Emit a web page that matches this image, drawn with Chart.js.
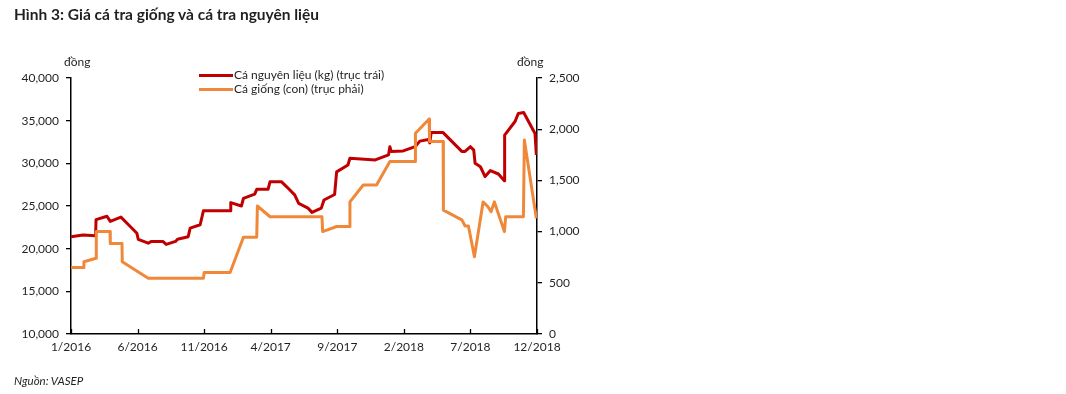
<!DOCTYPE html>
<html>
<head>
<meta charset="utf-8">
<script src="https://cdn.jsdelivr.net/npm/chart.js@4/dist/chart.umd.min.js"></script>
<style>
  html, body { margin: 0; padding: 0; background: #fff; }
  #wrap { position: relative; width: 1066px; height: 394px; font-family: "Lato", "Liberation Sans", sans-serif; color: #231f20; }
  #c { position: absolute; left: 0; top: 0; }
  .t { position: absolute; white-space: nowrap; }
  #title { left: 14px; top: 5px; font-size: 15.5px; font-weight: bold; }
  #src { left: 14px; top: 374px; font-size: 11.5px; font-style: italic; }
  .unit { font-size: 12px; top: 54px; }
  .leg { font-size: 12px; }
  .sw { position: absolute; height: 3px; width: 34px; }
</style>
</head>
<body>
<div id="wrap">
  <canvas id="c" width="1066" height="394"></canvas>
  <div class="t" id="title">Hình 3: Giá cá tra giống và cá tra nguyên liệu</div>
  <div class="t unit" style="left:64px;">đồng</div>
  <div class="t unit" style="left:517px;">đồng</div>
  <div class="sw" style="left:199px; top:74px; background:#c00000;"></div>
  <div class="t leg" style="left:234px; top:67px;">Cá nguyên liệu (kg) (trục trái)</div>
  <div class="sw" style="left:199px; top:88px; background:#f0883a;"></div>
  <div class="t leg" style="left:234px; top:81px;">Cá giống (con) (trục phải)</div>
  <div class="t" id="src">Nguồn: VASEP</div>
</div>
<script>
// x = months since 1/2016
const xTickLabels = ['1/2016','6/2016','11/2016','4/2017','9/2017','2/2018','7/2018','12/2018'];

const rawMonths = [0,0.9,1.85,1.88,2.7,2.95,3.75,4.45,4.95,5.05,5.8,6.05,6.9,7.15,7.85,8.0,8.8,8.95,9.7,9.95,11.95,12.0,12.8,12.95,13.8,13.95,14.8,14.95,15.8,16.2,16.8,17.1,17.8,18.1,18.8,19.0,19.8,19.95,20.8,20.95,22.85,23.85,23.95,24.05,24.95,25.85,26.2,26.85,26.95,27.05,27.95,29.35,29.6,30.0,30.25,30.35,30.75,31.1,31.5,32.1,32.55,32.57,33.35,33.6,34.0,34.85,34.95];
const rawPrices = [21400,21600,21500,23400,23800,23200,23700,22600,21800,21100,20650,20850,20850,20500,20850,21100,21400,22400,22800,24450,24450,25400,25000,25900,26400,26950,26950,27850,27850,27250,26300,25300,24750,24250,24750,25700,26350,29000,29800,30600,30400,31000,31950,31400,31450,31950,32600,32800,32400,33600,33600,31400,31400,31950,31550,30000,29600,28450,29150,28750,27950,33300,34900,35850,35950,33500,31000];

const seedMonths = [0,0.92,0.97,1.88,1.9,2.93,2.95,3.83,3.85,5.8,9.95,10.0,11.95,12.95,13.95,14.0,14.95,18.85,18.9,19.95,20.9,20.95,21.95,22.95,23.95,25.85,25.87,26.9,26.93,27.95,27.97,29.35,29.6,29.85,30.3,30.95,31.3,31.55,31.8,32.55,32.65,33.98,34.05,34.95];
const seedPrices = [650,650,705,740,1000,1000,885,885,705,545,545,600,600,945,945,1250,1145,1145,1000,1050,1050,1290,1455,1455,1685,1685,1960,2100,1880,1880,1210,1115,1055,1055,755,1290,1245,1195,1290,1000,1145,1145,1895,1130];

const toPts = (xs, ys) => xs.map((x, i) => ({x: x, y: ys[i]}));
const FONT = "'Lato', 'Liberation Sans', sans-serif";
const INK = '#231f20';

const inwardTicks = {
  id: 'inwardTicks',
  afterDraw(chart) {
    const s = chart.scales.x, ctx = chart.ctx;
    ctx.save();
    ctx.strokeStyle = '#000';
    ctx.lineWidth = 1.3;
    ctx.beginPath();
    s.ticks.forEach(t => {
      const px = Math.round(s.getPixelForValue(t.value)) + 0.5;
      ctx.moveTo(px, s.top);
      ctx.lineTo(px, s.top - 5);
    });
    ctx.stroke();
    ctx.restore();
  }
};

new Chart(document.getElementById('c'), {
  type: 'line',
  data: {
    datasets: [
      { label: 'Cá giống (con) (trục phải)', data: toPts(seedMonths, seedPrices), yAxisID: 'y1',
        borderColor: '#f0883a', borderWidth: 3, pointRadius: 0, tension: 0, order: 0, borderJoinStyle: 'round' },
      { label: 'Cá nguyên liệu (kg) (trục trái)', data: toPts(rawMonths, rawPrices), yAxisID: 'y',
        borderColor: '#c00000', borderWidth: 3, pointRadius: 0, tension: 0, order: 1, borderJoinStyle: 'round' }
    ]
  },
  options: {
    responsive: false,
    animation: false,
    events: [],
    layout: { padding: { left: 0, right: 0, top: 78, bottom: 32 } },
    plugins: { legend: { display: false }, tooltip: { enabled: false }, title: { display: false } },
    scales: {
      x: {
        type: 'linear', min: 0, max: 35,
        afterFit: s => { s.height = 28; },
        afterBuildTicks: s => { s.ticks = xTickLabels.map((l, i) => ({ value: i * 5 })); },
        ticks: { callback: v => xTickLabels[Math.round(v / 5)], color: INK, font: { family: FONT, size: 12 }, padding: 6, maxRotation: 0, autoSkip: false },
        grid: { display: true, drawOnChartArea: false, drawTicks: false, color: '#000' },
        border: { display: true, color: '#000', width: 1.5 }
      },
      y: {
        position: 'left', min: 10000, max: 40000,
        afterFit: s => { s.width = 71; },
        ticks: { stepSize: 5000, color: INK, font: { family: FONT, size: 12 }, padding: 7,
                 callback: v => v.toLocaleString('en-US') },
        grid: { display: true, drawOnChartArea: false, drawTicks: true, tickLength: 5, color: '#000', lineWidth: 1.3 },
        border: { display: true, color: '#000', width: 1.5 }
      },
      y1: {
        position: 'right', min: 0, max: 2500,
        afterFit: s => { s.width = 529; },
        ticks: { stepSize: 500, color: INK, font: { family: FONT, size: 12 }, padding: 7,
                 callback: v => v.toLocaleString('en-US') },
        grid: { display: true, drawOnChartArea: false, drawTicks: true, tickLength: 5, color: '#000', lineWidth: 1.3 },
        border: { display: true, color: '#000', width: 1.5 }
      }
    }
  },
  plugins: [inwardTicks]
});
</script>
</body>
</html>
